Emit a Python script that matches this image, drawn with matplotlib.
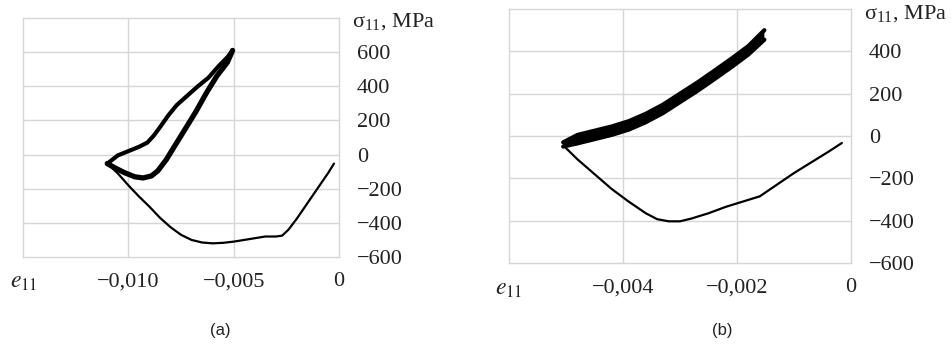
import matplotlib
matplotlib.use('Agg')
import matplotlib.pyplot as plt

plt.rcParams['font.family'] = ['Liberation Serif', 'DejaVu Serif']
plt.rcParams['mathtext.fontset'] = 'stix'

# ---- panel (a) data: strain e11, stress sigma11 (MPa)
a_up_e = [-0.0110, -0.0105, -0.0100, -0.0095, -0.0091, -0.0088, -0.0085, -0.0081, -0.0077,
          -0.0072, -0.0067, -0.0062, -0.0057, -0.0053, -0.00505]
a_up_s = [-53, -5, 20, 45, 70, 110, 160, 230, 290, 345, 400, 450, 520, 570, 610]
a_dn_e = [-0.00505, -0.0053, -0.0058, -0.0063, -0.0068, -0.0073, -0.0078, -0.0082, -0.0086,
          -0.0089, -0.0093, -0.0097, -0.0102, -0.0106, -0.0110]
a_dn_s = [610, 540, 460, 360, 250, 150, 50, -30, -95, -125, -137, -130, -105, -80, -53]
a_un_e = [-0.0110, -0.0105, -0.0100, -0.0095, -0.0090, -0.0085, -0.0080, -0.0075, -0.0070,
          -0.0065, -0.0060, -0.0055, -0.0050, -0.0045, -0.0040, -0.0035, -0.0030, -0.0027,
          -0.0024, -0.0020, -0.0015, -0.0010, -0.0005, -0.00024]
a_un_s = [-53, -110, -180, -245, -305, -370, -425, -470, -500, -515, -520, -517, -510, -500,
          -490, -480, -480, -475, -440, -375, -285, -195, -105, -53]

# ---- panel (b) data (band of many cycles: upper and lower edge)
b_up_e = [-0.00505, -0.0048, -0.0045, -0.0042, -0.0039, -0.0036, -0.0033, -0.0030, -0.0027,
          -0.0024, -0.0021, -0.0018, -0.00152]
b_up_s = [-30, 5, 25, 45, 70, 105, 148, 200, 252, 308, 365, 425, 500]
b_dn_e = [-0.00152, -0.0018, -0.0021, -0.0024, -0.0027, -0.0030, -0.0033, -0.0036, -0.0039,
          -0.0042, -0.0045, -0.0048, -0.00505]
b_dn_s = [455, 385, 325, 268, 212, 160, 108, 65, 30, 5, -15, -35, -50]
b_un_e = [-0.00502, -0.0048, -0.0045, -0.0042, -0.0039, -0.0036, -0.0034, -0.0032, -0.0030,
          -0.0028, -0.0025, -0.0022, -0.0019, -0.0016, -0.0013, -0.0010, -0.0007, -0.0004,
          -0.00016]
b_un_s = [-52, -110, -180, -250, -310, -365, -393, -403, -403, -390, -365, -335, -310, -285,
          -230, -175, -125, -75, -33]

a_xticks = [-0.010, -0.005, 0.0]
a_xlabels = ['\u22120,010', '\u22120,005', '0']
a_yticks = [600, 400, 200, 0, -200, -400, -600]
b_xticks = [-0.004, -0.002, 0.0]
b_xlabels = ['\u22120,004', '\u22120,002', '0']
b_yticks = [400, 200, 0, -200, -400, -600]

W, H = 951, 349
fig = plt.figure(figsize=(W / 100, H / 100), dpi=100)
txt = '#222222'
grid = '#d6d6d6'


def fr(px, py):
    return px / W, 1 - py / H


def panel(box, xlim, ylim, xt, xl, yt, sig_y, e_pos, tag_pos, tag):
    l, t, r, b = box
    ax = fig.add_axes([l / W, 1 - b / H, (r - l) / W, (b - t) / H])
    ax.set_xlim(*xlim)
    ax.set_ylim(*ylim)
    step = 0.005 if xlim[0] < -0.01 else 0.002
    for gx in [xlim[0] + i * step for i in range(1, 3)]:
        ax.axvline(gx, color=grid, lw=1, zorder=0)
    for gy in range(ylim[0] + 200, ylim[1], 200):
        ax.axhline(gy, color=grid, lw=1, zorder=0)
    for s in ax.spines.values():
        s.set_color(grid)
        s.set_linewidth(1)
    ax.set_xticks(xt)
    ax.set_xticklabels(xl)
    ax.set_yticks(yt)
    ax.set_yticklabels(['\u2212%d' % -v if v < 0 else '%d' % v for v in yt])
    ax.yaxis.tick_right()
    ax.tick_params(axis='both', length=0, labelsize=16, colors=txt)
    ax.tick_params(axis='y', pad=13)
    ax.tick_params(axis='x', pad=11)
    fig.text(*fr(r + 13, sig_y), r'$\mathregular{\sigma_{11}}$, MPa', fontsize=16,
             color=txt, ha='left', va='center')
    fig.text(*fr(*e_pos), r'$e_{11}$', fontsize=17, color=txt, ha='left', va='center')
    fig.text(*fr(*tag_pos), tag, fontsize=12, color=txt, ha='center', va='center',
             family='Liberation Sans')
    return ax


kw = dict(color='black', solid_capstyle='round', solid_joinstyle='round')

ax1 = panel((23, 18, 339, 257), (-0.015, 0.0), (-600, 800), a_xticks, a_xlabels, a_yticks,
            22, (10, 282), (220, 330), '(a)')
ax1.plot(a_up_e, a_up_s, lw=3.0, **kw)
ax1.plot(a_dn_e, a_dn_s, lw=3.8, **kw)
ax1.plot(a_un_e, a_un_s, lw=1.6, **kw)

ax2 = panel((509, 9, 851, 263), (-0.006, 0.0), (-600, 600), b_xticks, b_xlabels, b_yticks,
            14, (495, 290), (722, 330), '(b)')
ax2.fill(b_up_e + b_dn_e, b_up_s + b_dn_s, color='black', lw=0)
ax2.plot(b_up_e, b_up_s, lw=3, **kw)
ax2.plot(b_dn_e, b_dn_s, lw=3, **kw)
ax2.plot(b_un_e, b_un_s, lw=1.6, **kw)

fig.savefig('out.png', dpi=100)
